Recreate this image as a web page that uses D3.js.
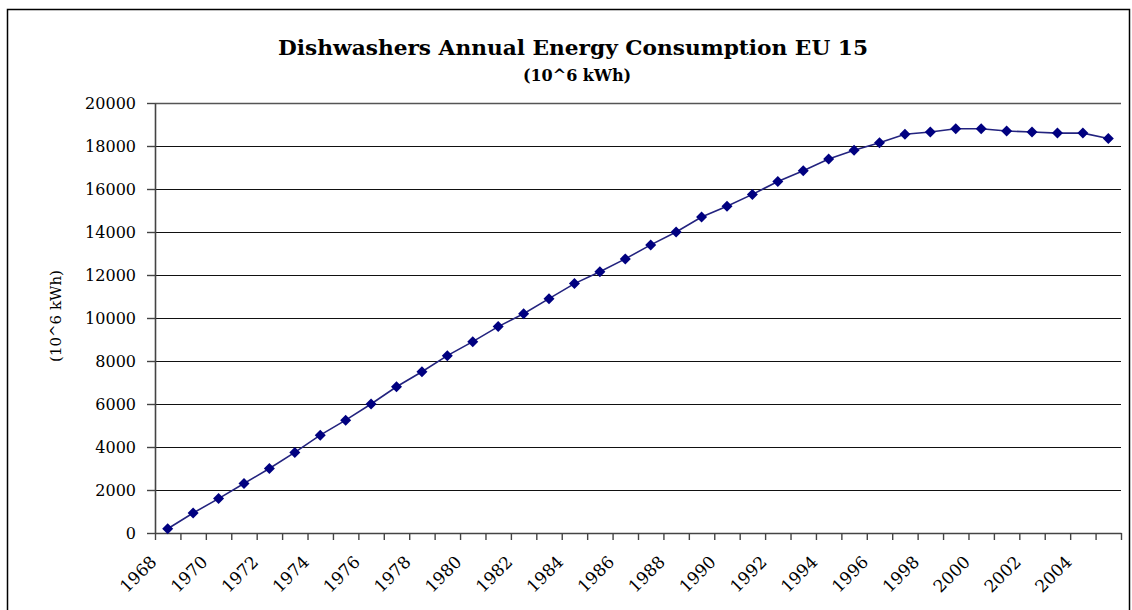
<!DOCTYPE html>
<html>
<head>
<meta charset="utf-8">
<script src="https://cdn.jsdelivr.net/npm/d3@7"></script>
<style>
  html, body { margin: 0; padding: 0; background: #fff; }
  svg { display: block; }
</style>
</head>
<body>
<svg id="chart" width="1132" height="610"></svg>
<script>
const years = [1968, 1969, 1970, 1971, 1972, 1973, 1974, 1975, 1976, 1977,
  1978, 1979, 1980, 1981, 1982, 1983, 1984, 1985, 1986, 1987,
  1988, 1989, 1990, 1991, 1992, 1993, 1994, 1995, 1996, 1997,
  1998, 1999, 2000, 2001, 2002, 2003, 2004, 2005];
const consumption = [200, 930, 1600, 2300, 3000, 3750, 4550, 5250, 6000, 6800,
  7500, 8250, 8900, 9600, 10200, 10900, 11600, 12150, 12750, 13400,
  14000, 14700, 15200, 15750, 16350, 16850, 17400, 17800, 18150, 18550,
  18650, 18800, 18800, 18700, 18650, 18600, 18600, 18350];
const xLabelYears = [1968, 1970, 1972, 1974, 1976, 1978, 1980, 1982, 1984, 1986,
  1988, 1990, 1992, 1994, 1996, 1998, 2000, 2002, 2004];
const yTicks = [0, 2000, 4000, 6000, 8000, 10000, 12000, 14000, 16000, 18000, 20000];
const titleText = "Dishwashers Annual Energy Consumption EU 15";
const subtitleText = "(10^6 kWh)";
const yAxisTitle = "(10^6 kWh)";

(function () {
const svg = d3.select("#chart");
const serif = "'DejaVu Serif', 'Liberation Serif', serif";
const plotL = 155, plotR = 1121, plotT = 103, plotB = 533;

// outer frame
svg.append("rect").attr("x", 7.5).attr("y", 9.5).attr("width", 1122).attr("height", 700)
  .attr("fill", "none").attr("stroke", "#000").attr("stroke-width", 1.5);

const x = d3.scaleBand().domain(years).range([plotL, plotR]).padding(0);
const xb = d3.scaleLinear().domain([0, years.length]).range([plotL, plotR]);
const y = d3.scaleLinear().domain([0, 20000]).range([plotB, plotT]);

// gridlines
const grid = svg.append("g").attr("transform", `translate(${plotL},0)`)
  .call(d3.axisLeft(y).tickValues(yTicks.filter(d => d > 0)).tickSize(-(plotR - plotL)).tickFormat(""));
grid.select(".domain").remove();
grid.selectAll("line").attr("stroke", "#111").attr("stroke-width", 1.2);
grid.selectAll("line").filter(d => d === 20000).attr("stroke", "#555").attr("stroke-width", 1.5);

// y axis
const ya = svg.append("g").attr("transform", `translate(${plotL},0)`)
  .call(d3.axisLeft(y).tickValues(yTicks).tickSize(8).tickSizeOuter(0).tickPadding(11).tickFormat(d => String(d)));
ya.select(".domain").attr("stroke", "#444").attr("stroke-width", 1.6);
ya.selectAll("line").attr("stroke", "#444").attr("stroke-width", 1.4);
ya.selectAll("text").attr("font-family", serif).attr("font-size", 16).attr("fill", "#000");

// x axis (category boundaries)
const xa = svg.append("g").attr("transform", `translate(0,${plotB})`)
  .call(d3.axisBottom(xb).tickValues(d3.range(years.length + 1)).tickSize(7).tickSizeOuter(0).tickFormat(""));
xa.select(".domain").attr("stroke", "#444").attr("stroke-width", 1.6);
xa.selectAll("line").attr("stroke", "#444").attr("stroke-width", 1.4);

// x labels
svg.append("g").selectAll("text").data(xLabelYears).join("text")
  .attr("transform", d => `translate(${x(d) + x.bandwidth() / 2 - 10},${563}) rotate(-45)`)
  .attr("text-anchor", "end")
  .attr("font-family", serif).attr("font-size", 17).attr("fill", "#000")
  .text(d => d);

// line
const line = d3.line().x((d, i) => x(years[i]) + x.bandwidth() / 2).y(d => y(d));
svg.append("path").datum(consumption).attr("d", line)
  .attr("fill", "none").attr("stroke", "#23237f").attr("stroke-width", 1.6);

// markers
svg.append("g").selectAll("path").data(consumption).join("path")
  .attr("transform", (d, i) => `translate(${x(years[i]) + x.bandwidth() / 2},${y(d)})`)
  .attr("d", "M0,-5.5L5.5,0L0,5.5L-5.5,0Z")
  .attr("fill", "#000080");

// titles
svg.append("text").attr("x", 573).attr("y", 55).attr("text-anchor", "middle")
  .attr("font-family", serif).attr("font-weight", "bold").attr("font-size", 20)
  .attr("textLength", 590).attr("lengthAdjust", "spacingAndGlyphs")
  .attr("fill", "#000").text(titleText);
svg.append("text").attr("x", 577).attr("y", 81).attr("text-anchor", "middle")
  .attr("font-family", serif).attr("font-weight", "bold").attr("font-size", 16)
  .attr("fill", "#000").text(subtitleText);
svg.append("text").attr("transform", "translate(61,316) rotate(-90)").attr("text-anchor", "middle")
  .attr("font-family", serif).attr("font-size", 15)
  .attr("fill", "#000").text(yAxisTitle);
})();
</script>
</body>
</html>
